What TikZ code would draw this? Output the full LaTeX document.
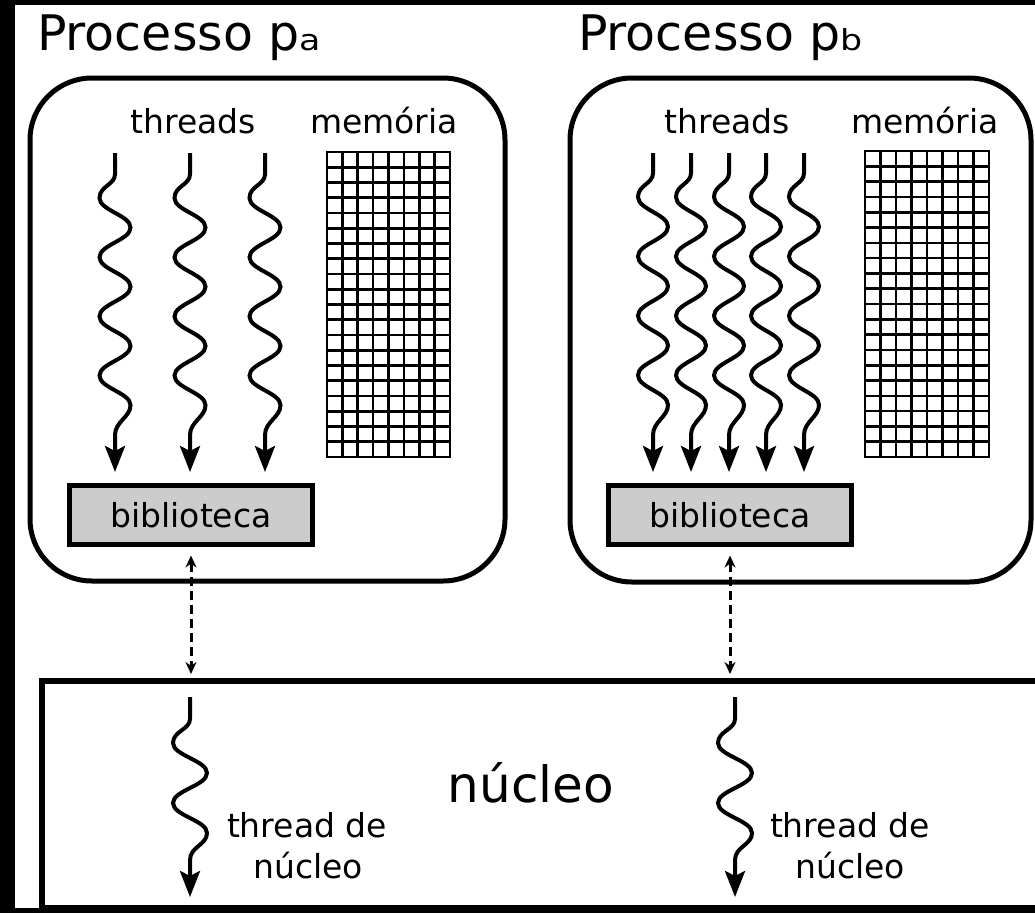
\documentclass[tikz,border=0pt]{standalone}
\usepackage{fontspec}
\setmainfont{DejaVu Sans}
\usetikzlibrary{arrows.meta}

% wavy thread: x, top y, first crest y, half period, crests, amplitude, end of wave y, tip y
\newcommand\wthread[8]{%
  \pgfmathsetmacro\wlast{#3+(#5-1)*#4}%
  \pgfmathsetmacro\wlx{#1+#6*(1-2*mod(#5,2))}%
  \draw[thread] (#1,#2) -- (#1,#3-0.8*#4)
    .. controls (#1,#3-0.45*#4) and (#1-#6,#3-0.4*#4) .. (#1-#6,#3)
    \foreach \wi [evaluate=\wi as \wya using {#3+(\wi-2)*#4},
                  evaluate=\wi as \wyb using {#3+(\wi-1)*#4},
                  evaluate=\wi as \wxa using {#1-#6*(1-2*mod(\wi,2))},
                  evaluate=\wi as \wxb using {#1+#6*(1-2*mod(\wi,2))}] in {2,...,#5}
      { .. controls (\wxa,\wya+0.42*#4) and (\wxb,\wyb-0.42*#4) .. (\wxb,\wyb) }
    .. controls (\wlx,\wlast+0.4*#4) and (#1,#7-0.45*#4) .. (#1,#7) -- (#1,#8);
}

% memory block: 8 columns by 20 rows between two corners
\newcommand\memgrid[4]{%
  \foreach \k in {0,...,8}
    {\draw[gridline] ({#1+(#3-#1)*\k/8},#2) -- ({#1+(#3-#1)*\k/8},#4);}
  \foreach \k in {0,...,20}
    {\draw[gridline] (#1,{#2+(#4-#2)*\k/20}) -- (#3,{#2+(#4-#2)*\k/20});}
}

% small index letter after the process name
\newcommand\pidx[1]{\scalebox{1.2}[1]{\fontsize{29}{32}\selectfont #1}}

\begin{document}
\begin{tikzpicture}[
  x=1pt, y=-1pt,
  procbox/.style={draw, line width=5pt, rounded corners=62pt, fill=white, inner sep=0pt},
  libbox/.style={draw, line width=5pt, fill=black!20, inner sep=0pt,
                 minimum width=243pt, minimum height=59pt, font=\fontsize{33}{40}\selectfont},
  kernbox/.style={draw, line width=6pt, fill=white, inner sep=0pt},
  txt/.style={inner sep=0pt, anchor=base, font=\fontsize{33}{40}\selectfont},
  ptitle/.style={inner sep=0pt, anchor=base west, font=\fontsize{49}{58}\selectfont},
  thread/.style={line width=4pt, -{Stealth[length=26pt,width=20pt,inset=5pt]}},
  dasharrow/.style={line width=3pt, dash pattern=on 9pt off 5pt,
                    {Stealth[length=12pt,width=11pt]}-{Stealth[length=12pt,width=11pt]}},
  gridline/.style={line width=2.6pt, line cap=rect},
]
\useasboundingbox (0,0) rectangle (1035,913);
\fill[black] (0,0) rectangle (1035,913);
\fill[white] (15,5) rectangle (1035,908);

% process titles
\node[ptitle] (titleA) at (37,50) {Processo p\pidx{a}};
\node[ptitle] (titleB) at (578,50) {Processo p\pidx{b}};

% process boxes
\node[procbox, minimum width=475pt, minimum height=503pt] (procA) at (267.5,329.5) {};
\node[procbox, minimum width=461pt, minimum height=504pt] (procB) at (800.5,330) {};

% headings inside the processes
\node[txt] (thrA) at (193,133) {threads};
\node[txt] (memA) at (384,133) {memória};
\node[txt] (thrB) at (727,133) {threads};
\node[txt] (memB) at (925,133) {memória};

% memory blocks
\memgrid{327}{152}{450}{457}
\memgrid{865}{151}{989}{457}

% user threads
\foreach \tx in {115,190,265}
  {\wthread{\tx}{153}{198}{29.6}{8}{15.5}{435}{472}}
\foreach \tx in {653,691,729,766,804}
  {\wthread{\tx}{153}{197}{29.7}{8}{15}{435}{472}}

% thread libraries
\node[libbox] (bibA) at (191,515) {biblioteca};
\node[libbox] (bibB) at (730,515) {biblioteca};

% kernel
\node[kernbox, minimum width=1018pt, minimum height=227pt] (kern) at (551,794.5) {};
\node[inner sep=0pt, anchor=base, font=\fontsize{50}{60}\selectfont] (kernT) at (531,802) {núcleo};

% library <-> kernel
\draw[dasharrow, shorten <=8.5pt, shorten >=4pt] (bibA.south) -- (bibA.south |- kern.north);
\draw[dasharrow, shorten <=8.5pt, shorten >=4pt] (bibB.south) -- (bibB.south |- kern.north);

% kernel threads
\wthread{190}{697}{743}{30}{4}{17}{860}{897}
\wthread{735}{697}{743}{30}{4}{17}{860}{897}
\node[txt] (ktA1) at (307,837) {thread de};
\node[txt] (ktA2) at (308,878) {núcleo};
\node[txt] (ktB1) at (850,837) {thread de};
\node[txt] (ktB2) at (850,878) {núcleo};
\end{tikzpicture}
\end{document}
